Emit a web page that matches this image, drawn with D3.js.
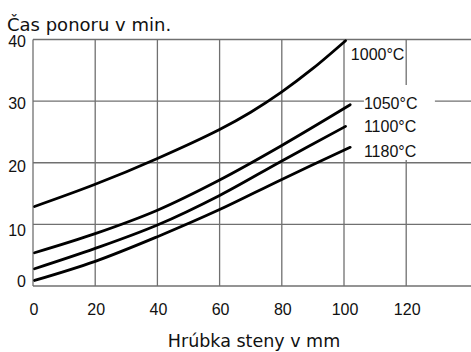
<!DOCTYPE html>
<html>
<head>
<meta charset="utf-8">
<script src="https://cdn.jsdelivr.net/npm/d3@7"></script>
<style>
    html, body { margin: 0; padding: 0; background: #fff; }
    svg { display: block; }
</style>
</head>
<body>
<svg id="chart"></svg>
<script>
// values (wall thickness mm -> time in min)
const xTicks = [0, 20, 40, 60, 80, 100, 120];
const yTicks = [0, 10, 20, 30, 40];
const temps = ['1000°C', '1050°C', '1100°C', '1180°C'];
const curve1000 = [[0.5, 12.9], [20, 16.5], [40, 20.7], [60, 25.4], [70, 28.2], [80, 31.5], [90, 35.3], [100.5, 39.8]];
const curve1050 = [[0.5, 5.4], [20, 8.5], [40, 12.3], [60, 17.2], [80, 22.8], [102, 29.4]];
const curve1100 = [[0.5, 2.8], [20, 6.1], [40, 9.9], [60, 14.7], [80, 20.3], [100.5, 25.9]];
const curve1180 = [[0.5, 0.9], [20, 4.0], [40, 8.0], [60, 12.4], [80, 17.3], [102, 22.5]];
const series = [curve1000, curve1050, curve1100, curve1180];

const title = 'Čas ponoru v min.';
const xTitle = 'Hrúbka steny v mm';

// layout
const width = 471;
const height = 352;
const plot = { left: 33, right: 344, top: 39.5, bottom: 286, edge: 471 };
const labelPos = [[102.2, 36.6], [106.4, 28.7], [106.4, 24.95], [106.4, 21.0]]; // in data units
const yLabelNudge = { 0: -5, 10: 6, 20: 4, 30: 2.5, 40: 2 };

const x = d3.scaleLinear().domain([0, 100]).range([plot.left, plot.right]);
const y = d3.scaleLinear().domain([0, 40]).range([plot.bottom, plot.top]);

const svg = d3.select('#chart')
    .attr('width', width)
    .attr('height', height);

const gridColor = '#707070';
const tickFont = '"Liberation Sans", Arial, sans-serif';

// grid
const grid = svg.append('g').attr('class', 'grid');
grid.selectAll('line.h')
    .data(yTicks)
    .enter()
    .append('line')
        .attr('x1', plot.left)
        .attr('x2', plot.edge)
        .attr('y1', d => y(d))
        .attr('y2', d => y(d))
        .attr('stroke', gridColor)
        .attr('stroke-width', 1.3);

grid.selectAll('line.v')
    .data(xTicks)
    .enter()
    .append('line')
        .attr('x1', d => x(d))
        .attr('x2', d => x(d))
        .attr('y1', y(40))
        .attr('y2', y(0))
        .attr('stroke', gridColor)
        .attr('stroke-width', 1.3);

// curves
const line = d3.line()
    .x(d => x(d[0]))
    .y(d => y(d[1]))
    .curve(d3.curveCatmullRom.alpha(0.5));

svg.append('g')
    .attr('class', 'curves')
    .selectAll('path')
    .data(series)
    .enter()
    .append('path')
        .attr('d', line)
        .attr('fill', 'none')
        .attr('stroke', '#000')
        .attr('stroke-width', 2.8)
        .attr('stroke-linecap', 'round');

// white patch behind the lower labels
svg.append('rect')
    .attr('x', x(106.4))
    .attr('y', 85)
    .attr('width', 71)
    .attr('height', 75)
    .attr('fill', '#fff');

svg.append('g')
    .attr('class', 'labels')
    .selectAll('text')
    .data(temps)
    .enter()
    .append('text')
        .attr('x', (d, i) => x(labelPos[i][0]))
        .attr('y', (d, i) => y(labelPos[i][1]))
        .style('font-family', tickFont)
        .style('font-size', '16px')
        .attr('fill', '#111')
        .text(d => d);

// tick labels
svg.append('g')
    .selectAll('text')
    .data(xTicks)
    .enter()
    .append('text')
        .attr('x', d => x(d) + 1)
        .attr('y', 315)
        .attr('text-anchor', 'middle')
        .style('font-family', tickFont)
        .style('font-size', '16px')
        .attr('fill', '#111')
        .text(d => d);

svg.append('g')
    .selectAll('text')
    .data(yTicks)
    .enter()
    .append('text')
        .attr('x', 26)
        .attr('y', d => y(d) + yLabelNudge[d])
        .attr('dy', '0.35em')
        .attr('text-anchor', 'end')
        .style('font-family', tickFont)
        .style('font-size', '16px')
        .attr('fill', '#111')
        .text(d => d);

// titles
svg.append('text')
    .attr('x', 7)
    .attr('y', 30.5)
    .style('font-family', '"DejaVu Sans", sans-serif')
    .style('font-size', '18px')
    .attr('fill', '#111')
    .text(title);

svg.append('text')
    .attr('x', 254)
    .attr('y', 346.5)
    .attr('text-anchor', 'middle')
    .style('font-family', '"DejaVu Sans", sans-serif')
    .style('font-size', '17.5px')
    .attr('fill', '#111')
    .text(xTitle);
</script>
</body>
</html>
